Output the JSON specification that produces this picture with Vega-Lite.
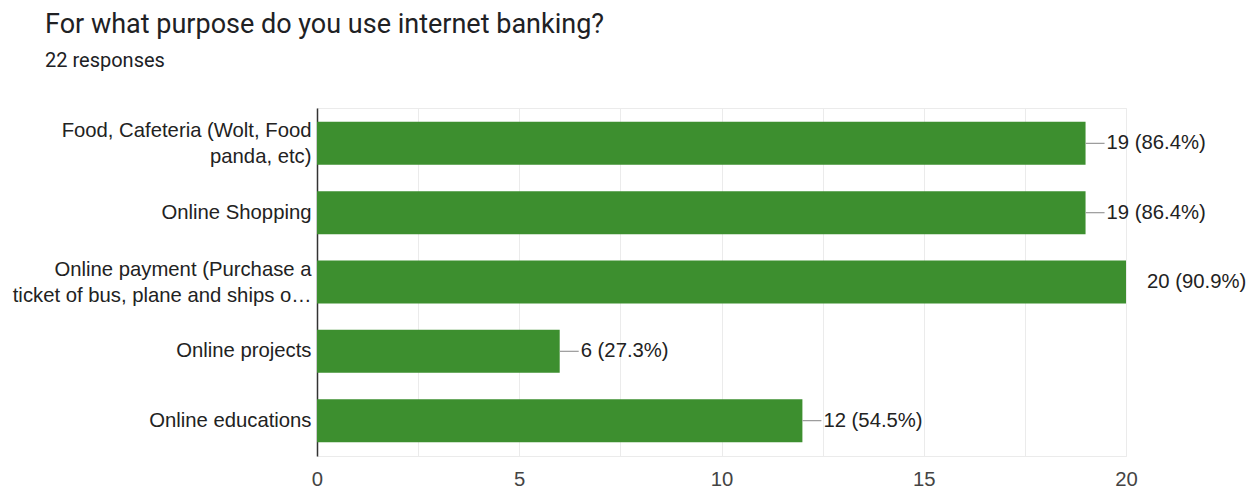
{
  "$schema": "https://vega.github.io/schema/vega-lite/v6.json",
  "autosize": "none",
  "width": 809,
  "height": 348,
  "padding": {"left": 317, "top": 108, "right": 129, "bottom": 35},
  "background": "white",
  "title": {
    "text": "For what purpose do you use internet banking?",
    "subtitle": "22 responses",
    "anchor": "start",
    "frame": "group",
    "dx": -272,
    "offset": 36,
    "font": "Roboto",
    "fontSize": 27,
    "fontWeight": "normal",
    "color": "#202124",
    "subtitleFont": "Roboto",
    "subtitleFontSize": 20,
    "subtitleColor": "#202124",
    "subtitlePadding": 12
  },
  "config": {
    "view": {"stroke": "#ebebeb", "strokeWidth": 1},
    "font": "Liberation Sans"
  },
  "data": {
    "values": [
      {"purpose": "Food, Cafeteria (Wolt, Food panda, etc)", "count": 19, "label": "19 (86.4%)"},
      {"purpose": "Online Shopping", "count": 19, "label": "19 (86.4%)"},
      {"purpose": "Online payment (Purchase a ticket of bus, plane and ships online)", "count": 20, "label": "20 (90.9%)"},
      {"purpose": "Online projects", "count": 6, "label": "6 (27.3%)"},
      {"purpose": "Online educations", "count": 12, "label": "12 (54.5%)"}
    ]
  },
  "encoding": {
    "y": {
      "field": "purpose",
      "type": "nominal",
      "sort": null,
      "scale": {"paddingInner": 0.38, "paddingOuter": 0.2},
      "axis": {
        "title": null,
        "ticks": false,
        "domainColor": "#333333",
        "domainWidth": 1.5,
        "labelFont": "Liberation Sans",
        "labelFontSize": 20.3,
        "labelColor": "#222222",
        "labelPadding": 6,
        "labelLimit": 400,
        "labelLineHeight": 26,
        "labelOffset": {"condition": {"test": "indexof(datum.value, 'Food,') == 0 || indexof(datum.value, 'Online payment') == 0", "value": -12}, "value": 0},
        "labelExpr": "datum.value == 'Food, Cafeteria (Wolt, Food panda, etc)' ? ['Food, Cafeteria (Wolt, Food', 'panda, etc)'] : datum.value == 'Online payment (Purchase a ticket of bus, plane and ships online)' ? ['Online payment (Purchase a', 'ticket of bus, plane and ships o…'] : datum.label"
      }
    }
  },
  "layer": [
    {
      "mark": {"type": "bar", "color": "#3d8f2f"},
      "encoding": {
        "x": {
          "field": "count",
          "type": "quantitative",
          "scale": {"domain": [0, 20], "nice": false},
          "axis": {
            "title": null,
            "values": [0, 2.5, 5, 7.5, 10, 12.5, 15, 17.5, 20],
            "labelExpr": "datum.value % 5 == 0 ? datum.label : ''",
            "labelFlush": false,
            "ticks": false,
            "domain": false,
            "gridColor": "#ebebeb",
            "labelFont": "Liberation Sans",
            "labelFontSize": 20.3,
            "labelColor": "#444444",
            "labelPadding": 13
          }
        }
      }
    },
    {
      "mark": {"type": "rule", "color": "#999999", "strokeWidth": 1.2, "x2Offset": 19},
      "encoding": {
        "x": {"field": "count", "type": "quantitative"},
        "x2": {"field": "count"},
        "opacity": {"condition": {"test": "datum.count == 20", "value": 0}, "value": 1}
      }
    },
    {
      "mark": {"type": "text", "align": "left", "baseline": "middle", "dx": 21, "fontSize": 20.3, "color": "#222222", "font": "Liberation Sans"},
      "encoding": {
        "x": {"field": "count", "type": "quantitative"},
        "text": {"field": "label"}
      }
    }
  ]
}
